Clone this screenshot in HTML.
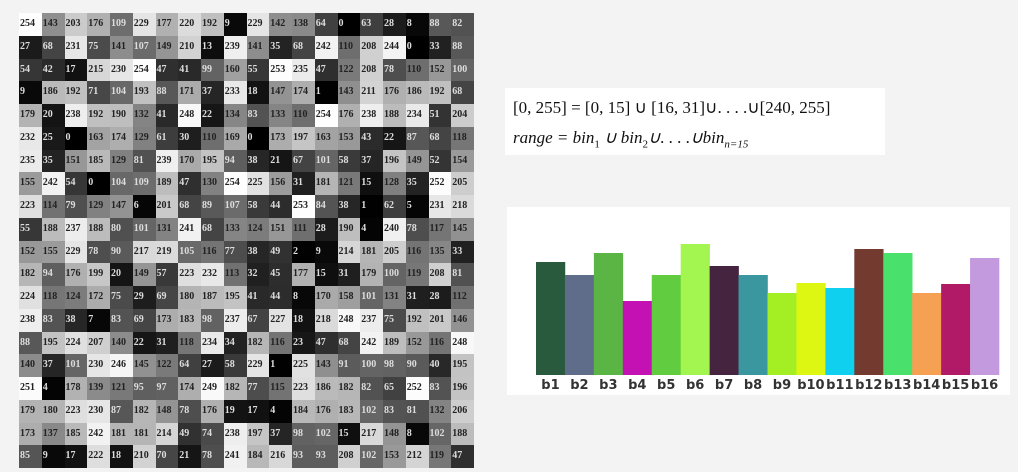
<!DOCTYPE html>
<html><head><meta charset="utf-8">
<style>
body{margin:0;width:1018px;height:472px;background:#f3f3f3;position:relative;overflow:hidden;font-family:"Liberation Sans",sans-serif}
#grid{position:absolute;left:19px;top:13px;width:455px;height:455px}
.c{position:absolute;width:22.75px;height:22.75px;font:bold 10px "Liberation Serif",serif;line-height:22.75px;text-align:left;padding-left:1px;box-sizing:border-box}
#formula{position:absolute;left:505px;top:88px;width:380px;height:67px;background:#fff;font-family:"Liberation Serif",serif;font-size:17px;color:#111}
#chartbox{position:absolute;left:507px;top:207px;width:503px;height:188px;background:#fff}
</style></head><body>
<div id="grid"></div>
<div id="formula">
<div style="position:absolute;left:8px;top:10px">[0, 255] = [0, 15] ∪ [16, 31]∪. . . .∪[240, 255]</div>
<div style="position:absolute;left:8px;top:40px;font-style:italic">range = bin<sub style="font-size:11px;font-style:normal">1</sub> ∪ bin<sub style="font-size:11px;font-style:normal">2</sub>∪. . . .∪bin<sub style="font-size:11px">n=15</sub></div>
</div>
<div id="chartbox"></div>
<svg id="chart" width="1018" height="472" style="position:absolute;left:0;top:0"></svg>
<script>
const rows=[
[254,143,203,176,109,229,177,220,192,9,229,142,138,64,0,63,28,8,88,82],
[27,68,231,75,141,107,149,210,13,239,141,35,68,242,110,208,244,0,33,88],
[54,42,17,215,230,254,47,41,99,160,55,253,235,47,122,208,78,110,152,100],
[9,186,192,71,104,193,88,171,37,233,18,147,174,1,143,211,176,186,192,68],
[179,20,238,192,190,132,41,248,22,134,83,133,110,254,176,238,188,234,51,204],
[232,25,0,163,174,129,61,30,110,169,0,173,197,163,153,43,22,87,68,118],
[235,35,151,185,129,81,239,170,195,94,38,21,67,101,58,37,196,149,52,154],
[155,242,54,0,104,109,189,47,130,254,225,156,31,181,121,15,128,35,252,205],
[223,114,79,129,147,6,201,68,89,107,58,44,253,84,38,1,62,5,231,218],
[55,188,237,188,80,101,131,241,68,133,124,151,111,28,190,4,240,78,117,145],
[152,155,229,78,90,217,219,105,116,77,38,49,2,9,214,181,205,116,135,33],
[182,94,176,199,20,149,57,223,232,113,32,45,177,15,31,179,100,119,208,81],
[224,118,124,172,75,29,69,180,187,195,41,44,8,170,158,101,131,31,28,112],
[238,83,38,7,83,69,173,183,98,237,67,227,18,218,248,237,75,192,201,146],
[88,195,224,207,140,22,31,118,234,34,182,116,23,47,68,242,189,152,116,248],
[140,37,101,230,246,145,122,64,27,58,229,1,225,143,91,100,98,90,40,195],
[251,4,178,139,121,95,97,174,249,182,77,115,223,186,182,82,65,252,83,196],
[179,180,223,230,87,182,148,78,176,19,17,4,184,176,183,102,83,81,132,206],
[173,137,185,242,181,181,214,49,74,238,197,37,98,102,15,217,148,8,102,188],
[85,9,17,222,18,210,70,21,78,241,184,216,93,93,208,102,153,212,119,47]];
const g=document.getElementById('grid');
rows.forEach((r,i)=>r.forEach((v,j)=>{
 const d=document.createElement('div');
 
 
 d.className='c';
 d.style.left=(j*22.75)+'px';d.style.top=(i*22.75)+'px';
 d.style.background=`rgb(${v},${v},${v})`;
 d.style.color=v<110?'#ddd':'#222';
 d.textContent=v;g.appendChild(d);
}));
const labels=["b1","b2","b3","b4","b5","b6","b7","b8","b9","b10","b11","b12","b13","b14","b15","b16"];
const values=[113,100,122,74,100,131,109,100,82,92,87,126,122,82,91,117];
const colors=["#2a5a3e","#5f6d8a","#5bb545","#c411b4","#61cc3f","#a3f550","#45243f","#3a979f","#a3ef24","#ddf612","#10d0f0","#733a30","#4ae06c","#f5a053","#b01a66","#c49ade"];
const svg=document.getElementById('chart');const NS='http://www.w3.org/2000/svg';
const x0=536,x1=999,base=375,bw=(x1-x0)/labels.length;
const xs=i=>x0+i*bw, ys=v=>base-v;
values.forEach((v,i)=>{
 const r=document.createElementNS(NS,'rect');
 
 
 r.setAttribute('x',xs(i));r.setAttribute('y',ys(v));r.setAttribute('width',bw+0.3);r.setAttribute('height',base-ys(v));r.setAttribute('fill',colors[i]);
 svg.appendChild(r);
 const t=document.createElementNS(NS,'text');
 
 
 t.setAttribute('x',xs(i)+bw/2);t.setAttribute('y',389);t.setAttribute('text-anchor','middle');
 t.setAttribute('font-family','DejaVu Sans, sans-serif');t.setAttribute('font-size','13');t.setAttribute('font-weight','bold');t.setAttribute('fill','#333');
 t.textContent=labels[i];svg.appendChild(t);
});
</script>
</body></html>
